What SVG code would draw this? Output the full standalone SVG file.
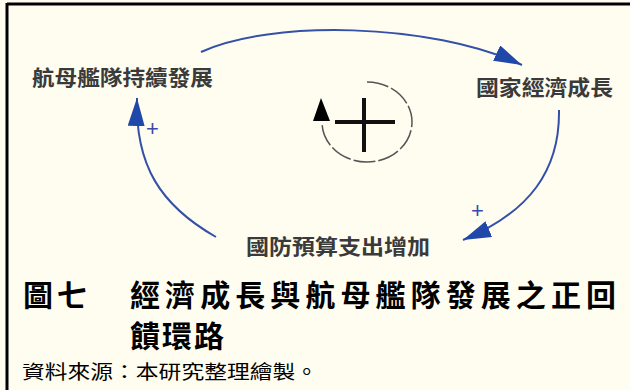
<svg xmlns="http://www.w3.org/2000/svg" width="630" height="390" viewBox="0 0 630 390">
<defs>
<style>
.node{font-family:"Noto Sans CJK TC","Noto Sans CJK SC",sans-serif;font-size:21px;font-weight:bold;fill:#3a3a3a}
.conn{fill:none;stroke:#3550a8;stroke-width:2}
.pl{font-family:"Liberation Sans",sans-serif;font-size:22px;fill:#3a4aa8}
.title{font-family:"Noto Sans CJK TC",sans-serif;font-size:30px;font-weight:bold;fill:#000}
.src{font-family:"Noto Sans CJK TC",sans-serif;font-size:19px;fill:#000}
</style>
<marker id="ah" viewBox="0 0 28 17" refX="28" refY="8.5" markerWidth="28" markerHeight="17" markerUnits="userSpaceOnUse" orient="auto">
<path d="M0,0 L28,8.5 L0,17 Z" fill="#1f48a8"/>
</marker>
</defs>
<rect x="0" y="0" width="630" height="390" fill="#FFFDF0"/>
<path d="M7,4 H630 M7,3 V390" stroke="#000" stroke-width="3" fill="none"/>
<g id="connectors">
<path class="conn" d="M201,52 C270,20 430,22 522,65" marker-end="url(#ah)"/>
<path class="conn" d="M559,110 C560,170 530,212 463,240" marker-end="url(#ah)"/>
<path class="conn" d="M216,237 C160,205 135,165 137,98" marker-end="url(#ah)"/>
<text class="pl" x="146" y="136">+</text>
<text class="pl" x="471" y="218">+</text>
</g>
<g id="loop">
<path d="M367,82 A45,40 0 1 1 322,122" fill="none" stroke="#555" stroke-width="1.5" stroke-dasharray="22 3"/>
<path d="M313,121 L330,121 L321,98 Z" fill="#000"/>
<path d="M335,122 H395 M364,98 V152" stroke="#111" stroke-width="4" fill="none"/>
</g>
<g id="n1"><text class="node" x="32" y="85" textLength="181" lengthAdjust="spacingAndGlyphs">航母艦隊持續發展</text></g>
<g id="n2"><text class="node" x="476" y="95" textLength="137" lengthAdjust="spacingAndGlyphs">國家經濟成長</text></g>
<g id="n3"><text class="node" x="246" y="254" textLength="184" lengthAdjust="spacingAndGlyphs">國防預算支出增加</text></g>
<g id="caption">
<text class="title" x="23" y="306" textLength="64" lengthAdjust="spacing">圖七</text>
<text class="title" x="130" y="306" textLength="486" lengthAdjust="spacing">經濟成長與航母艦隊發展之正回</text>
<text class="title" x="130" y="347" textLength="94" lengthAdjust="spacing">饋環路</text>
<text class="src" x="22" y="379" textLength="296" lengthAdjust="spacingAndGlyphs">資料來源：本研究整理繪製。</text>
</g>
</svg>
